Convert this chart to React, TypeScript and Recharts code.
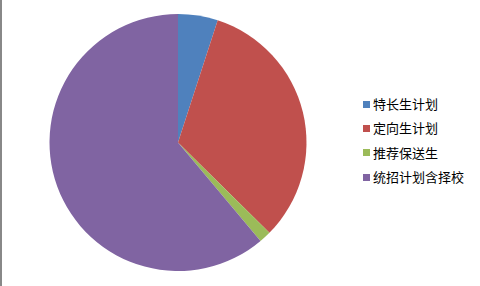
import { PieChart, Pie, Cell, Legend } from "recharts";

// categories and shares (percent)
const categories = ["特长生计划", "定向生计划", "推荐保送生", "统招计划含择校"];
const shares = [5.0, 32.4, 1.5, 61.1];
const colors = ["#4F81BD", "#C0504D", "#9BBB59", "#8064A2"];

const pieData = categories.map((name, i) => ({ name, value: shares[i] }));

function LegendBox() {
  return (
    <div style={{ fontFamily: "'Noto Sans CJK SC', sans-serif", fontSize: 13, color: "#000" }}>
      {categories.map((name, i) => (
        <div key={name} style={{ display: "flex", alignItems: "center", height: 24.3 }}>
          <span style={{ width: 7, height: 7, background: colors[i], marginRight: 3, display: "inline-block" }} />
          <span style={{ lineHeight: "14px" }}>{name}</span>
        </div>
      ))}
    </div>
  );
}

export default function App() {
  return (
    <div style={{ position: "absolute", left: 0, top: 0, width: 480, height: 286, background: "#fff" }}>
      <div style={{ position: "absolute", left: 0, top: 0, width: 2, height: 286, background: "#888" }} />
      <PieChart width={480} height={286} margin={{ top: 0, right: 0, bottom: 0, left: 0 }}>
        <Pie
          data={pieData}
          dataKey="value"
          nameKey="name"
          cx={178}
          cy={142.5}
          outerRadius={128.5}
          startAngle={90}
          endAngle={-270}
          stroke="none"
          isAnimationActive={false}
        >
          {pieData.map((d, i) => (
            <Cell key={d.name} fill={colors[i]} />
          ))}
        </Pie>
        <Legend
          content={() => <LegendBox />}
          wrapperStyle={{ position: "absolute", left: 363, top: 92, width: 115 }}
        />
      </PieChart>
    </div>
  );
}
